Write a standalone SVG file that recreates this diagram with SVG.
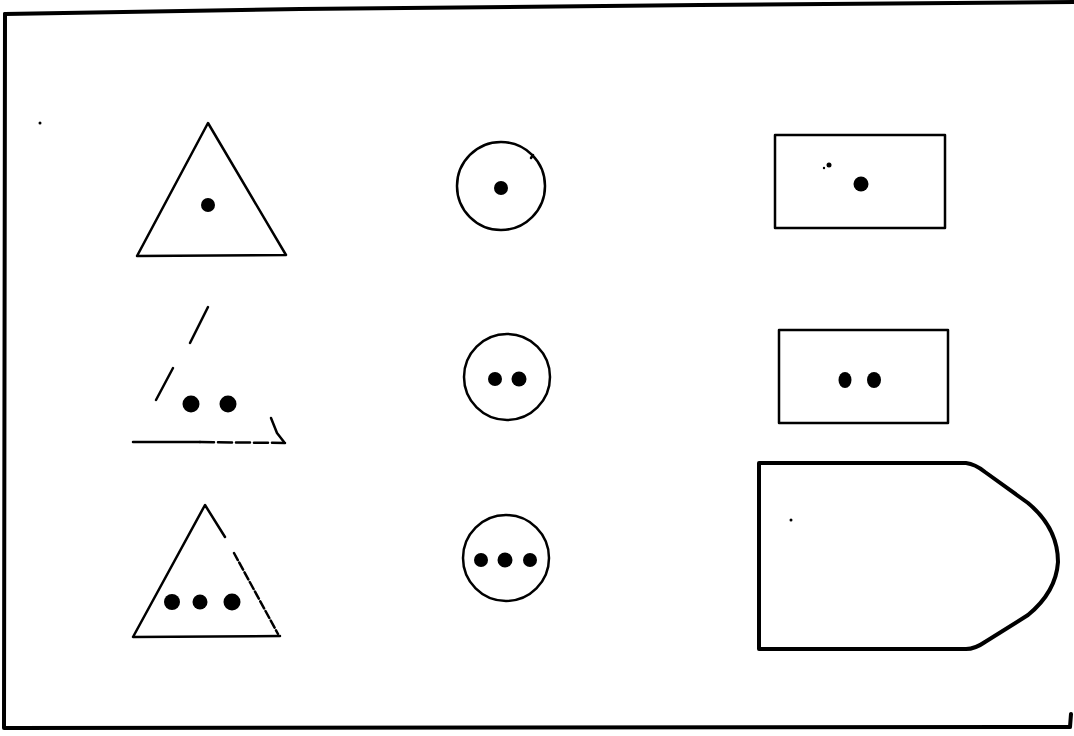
<svg xmlns="http://www.w3.org/2000/svg" width="1074" height="736" viewBox="0 0 1074 736">
<style>
.ln{fill:none;stroke:#000;stroke-width:2.5;stroke-linecap:round;stroke-linejoin:round}
.bold{fill:none;stroke:#000;stroke-width:4;stroke-linecap:round;stroke-linejoin:round}
.dot{fill:#000}
</style>
<rect width="1074" height="736" fill="#fff"/>
<g id="frame">
<path class="bold" d="M5,14 L300,9 L700,5 L1074,2" stroke-width="3.5"/>
<path class="bold" d="M5,14 L4,728 L1070,727 L1071,714" stroke-width="3.5"/>
<circle class="dot" cx="40" cy="123" r="1.5"/>
</g>
<g id="triangle-1">
<path class="ln" d="M208,123 L286,255 L137,256 Z"/>
<circle class="dot" cx="208" cy="205" r="7"/>
</g>
<g id="triangle-2">
<path class="ln" d="M208,307 L190,343" stroke-width="3"/>
<path class="ln" d="M173,368 L156,400"/>
<path class="ln" d="M133,442 L200,442"/>
<path class="ln" d="M200,442 L285,443" stroke-dasharray="14 4"/>
<path class="ln" d="M271,418 L277,433 L284,442"/>
<circle class="dot" cx="191" cy="404" r="8.5"/>
<circle class="dot" cx="228" cy="404" r="8.5"/>
</g>
<g id="triangle-3">
<path class="ln" d="M225,537 L205,505 L133,637 L280,636"/>
<path class="ln" d="M234,553 L278,634" stroke-dasharray="8 3"/>
<circle class="dot" cx="172" cy="602" r="8"/>
<circle class="dot" cx="200" cy="602" r="7.5"/>
<circle class="dot" cx="232" cy="602" r="8.5"/>
</g>
<g id="circle-1">
<circle class="ln" cx="501" cy="186" r="44"/>
<path class="ln" d="M531,158 L533,155" stroke-width="2"/>
<circle class="dot" cx="501" cy="188" r="7"/>
</g>
<g id="circle-2">
<circle class="ln" cx="507" cy="377" r="43"/>
<circle class="dot" cx="495" cy="379" r="7"/>
<circle class="dot" cx="519" cy="379" r="7.5"/>
</g>
<g id="circle-3">
<circle class="ln" cx="506" cy="558" r="43"/>
<circle class="dot" cx="481" cy="560" r="7"/>
<circle class="dot" cx="505" cy="560" r="7.5"/>
<circle class="dot" cx="530" cy="560" r="7"/>
</g>
<g id="rect-1">
<rect class="ln" x="775" y="135" width="170" height="93" stroke-width="3"/>
<circle class="dot" cx="861" cy="184" r="7.5"/>
<circle class="dot" cx="829" cy="165" r="2.5"/>
<circle class="dot" cx="824" cy="168" r="1.2"/>
</g>
<g id="rect-2">
<rect class="ln" x="779" y="330" width="169" height="93" stroke-width="3"/>
<ellipse class="dot" cx="845" cy="380" rx="6.5" ry="8"/>
<ellipse class="dot" cx="874" cy="380" rx="7" ry="8"/>
</g>
<g id="bullet-shape">
<path class="bold" d="M759,463 L966,463 Q975,464 985,472 L1028,503 Q1058,528 1058,562 Q1056,592 1028,615 L985,642 Q975,649 966,649 L759,649 Z"/>
<circle class="dot" cx="791" cy="520" r="1.5"/>
</g>
<g id="connectors"/>
</svg>
